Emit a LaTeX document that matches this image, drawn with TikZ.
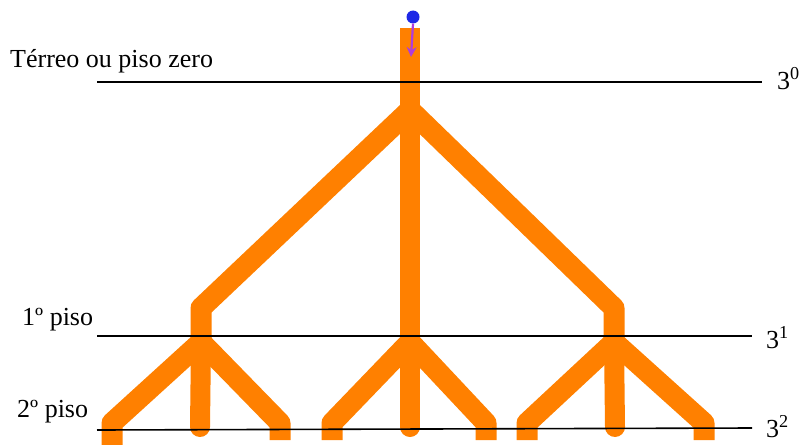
\documentclass[tikz,border=0pt]{standalone}
\usepackage{fontspec}
\setmainfont{Liberation Serif}
\usetikzlibrary{arrows.meta}
\definecolor{branch}{RGB}{255,128,0}
\definecolor{dotblue}{RGB}{30,40,230}
\definecolor{arrowpurple}{RGB}{175,60,220}
\begin{document}
\begin{tikzpicture}[x=1pt,y=-1pt,
  limb/.style={draw=branch,line width=21pt,line join=round,line cap=butt},
  tipend/.style={draw=branch,line width=20pt,line cap=round},
  floorline/.style={draw=black,line width=1.6pt},
  lbl/.style={inner sep=0pt,anchor=base west,font=\fontsize{26}{30}\selectfont},
]
\useasboundingbox (0,0) rectangle (802,444);
% joints
\coordinate (top) at (410,28);
\coordinate (s0) at (410,110);
\coordinate (b1) at (201,308);
\coordinate (b3) at (614,308);
\coordinate (n1) at (201,342);
\coordinate (n2) at (410,342);
\coordinate (n3) at (614,342);
% group 1 legs
\coordinate (a1) at (112,423); \coordinate (a1e) at (112,446);
\coordinate (c1) at (280,423); \coordinate (c1e) at (280,440);
\coordinate (m1) at (200,427);
% group 2 legs
\coordinate (a2) at (332,423); \coordinate (a2e) at (332,440);
\coordinate (c2) at (486,423); \coordinate (c2e) at (486,440);
\coordinate (m2) at (410,427);
% group 3 legs
\coordinate (a3) at (527,423); \coordinate (a3e) at (527,440);
\coordinate (c3) at (704,423); \coordinate (c3e) at (704,440);
\coordinate (m3) at (615,427);

% tree
\draw[limb,line width=20pt] (top) -- (s0) -- (n2);
\draw[tipend] (n2) -- (m2);
\draw[limb] (s0) -- (b1) -- (n1);
\draw[limb] (s0) -- (b3) -- (n3);
\draw[tipend] (n1) -- (m1);
\draw[tipend] (n3) -- (m3);
\draw[limb] (a1e) -- (a1) -- (n1) -- (c1) -- (c1e);
\draw[limb] (a2e) -- (a2) -- (n2) -- (c2) -- (c2e);
\draw[limb] (a3e) -- (a3) -- (n3) -- (c3) -- (c3e);

% floor lines
\coordinate (f0a) at (97,82);  \coordinate (f0b) at (762,82);
\coordinate (f1a) at (97,336); \coordinate (f1b) at (752,336);
\coordinate (f2a) at (97,430); \coordinate (f2b) at (752,428);
\draw[floorline] (f0a) -- (f0b);
\draw[floorline] (f1a) -- (f1b);
\draw[floorline] (f2a) -- (f2b);

% dot and arrow
\node[circle,fill=dotblue,inner sep=0pt,minimum size=13pt] (dot) at (413,17) {};
\coordinate (arrEnd) at (411,57);
\draw[arrowpurple,line width=2.2pt,-{Stealth[length=10pt,width=10pt]}] (dot.south) -- (arrEnd);

% labels
\node[lbl] (t0) at (10,67) {Térreo ou piso zero};
\node[lbl] (t1) at (22,325) {1º piso};
\node[lbl] (t2) at (17,417) {2º piso};
\node[lbl] (p0) at (777,89) {3\textsuperscript{0}};
\node[lbl] (p1) at (766,348) {3\textsuperscript{1}};
\node[lbl] (p2) at (766,437) {3\textsuperscript{2}};
\end{tikzpicture}
\end{document}
